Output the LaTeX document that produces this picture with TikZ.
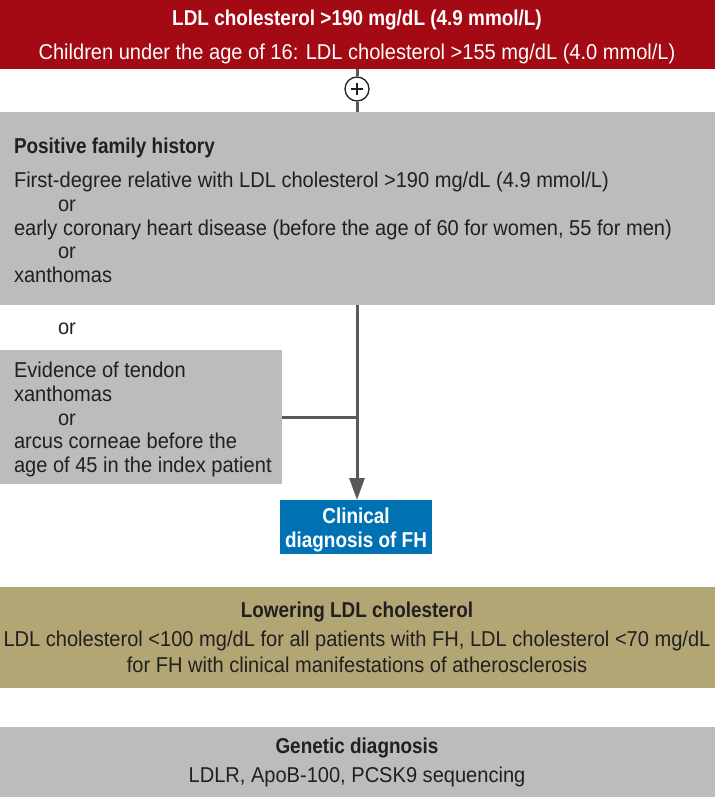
\documentclass[tikz,border=0pt]{standalone}
\usepackage{fontspec}
\setmainfont{Liberation Sans}[FakeStretch=0.933, BoldFeatures={FakeStretch=0.88}]
\usetikzlibrary{arrows.meta}
\definecolor{hdrred}{RGB}{163,10,20}
\definecolor{boxgray}{RGB}{187,188,190}
\definecolor{clinblue}{RGB}{0,114,180}
\definecolor{olive}{RGB}{177,166,116}
\definecolor{txtdark}{RGB}{35,31,32}
\definecolor{linegray}{RGB}{88,89,91}
\tikzset{
  panel/.style={draw=none, inner sep=0pt, outer sep=0pt, anchor=north west},
  txt/.style={inner sep=0pt, outer sep=0pt, text=txtdark, font=\fontsize{21.5}{24}\selectfont},
  txtb/.style={txt, font=\fontsize{21.5}{24}\selectfont\bfseries},
  lft/.style={anchor=base west},
  ctr/.style={anchor=base},
  conn/.style={draw=linegray, line width=3pt},
}
\begin{document}
\begin{tikzpicture}[x=1pt,y=-1pt]
\useasboundingbox (0,0) rectangle (715,797);
% panels
\node[panel, fill=hdrred, minimum width=715pt, minimum height=69pt] (red) at (0,0) {};
\node[panel, fill=boxgray, minimum width=715pt, minimum height=193pt] (fam) at (0,112) {};
\node[panel, fill=boxgray, minimum width=282pt, minimum height=134pt] (tend) at (0,350) {};
\node[panel, fill=clinblue, minimum width=152pt, minimum height=54pt] (clin) at (280,500) {};
\node[panel, fill=olive, minimum width=715pt, minimum height=101pt] (lower) at (0,587) {};
\node[panel, fill=boxgray, minimum width=715pt, minimum height=70pt] (gen) at (0,727) {};
% plus circle
\node[circle, draw=txtdark, fill=white, line width=1.3pt, minimum size=24pt, inner sep=0pt] (plus) at (357,89) {};
\draw[txtdark, line width=1.5pt] ([xshift=-6pt]plus.center) -- ([xshift=6pt]plus.center)
  ([yshift=-6pt]plus.center) -- ([yshift=6pt]plus.center);
% connectors
\draw[conn] (plus.north) -- (plus.north |- red.south);
\draw[conn] (plus.south) -- (plus.south |- fam.north);
\coordinate (join) at (plus |- tend.east);
\draw[conn, -{Triangle[length=22pt, width=15pt]}] (plus |- fam.south) -- (plus |- clin.north);
\draw[conn] (tend.east) -- (join);
% header texts
\node[txtb, ctr, text=white] (h1) at (357,26) {LDL cholesterol >190 mg/dL (4.9 mmol/L)};
\node[txt, ctr, text=white] (h2) at (357,60) {Children under the age of 16: LDL cholesterol >155 mg/dL (4.0 mmol/L)};
% family history
\node[txtb, lft] (f0) at (14,153) {Positive family history};
\node[txt, lft] (f1) at (14,187) {First-degree relative with LDL cholesterol >190 mg/dL (4.9 mmol/L)};
\node[txt, lft] (f2) at (58,211) {or};
\node[txt, lft] (f3) at (14,235) {early coronary heart disease (before the age of 60 for women, 55 for men)};
\node[txt, lft] (f4) at (58,258) {or};
\node[txt, lft] (f5) at (14,282) {xanthomas};
\node[txt, lft] (or1) at (58,334) {or};
% tendon
\node[txt, lft] (t1) at (14,377) {Evidence of tendon};
\node[txt, lft] (t2) at (14,401) {xanthomas};
\node[txt, lft] (t3) at (58,425) {or};
\node[txt, lft] (t4) at (14,448) {arcus corneae before the};
\node[txt, lft] (t5) at (14,472) {age of 45 in the index patient};
% clinical
\node[txtb, ctr, text=white] (c1) at (356,523) {Clinical};
\node[txtb, ctr, text=white] (c2) at (356,547) {diagnosis of FH};
% lowering
\node[txtb, ctr] (l1) at (357,617) {Lowering LDL cholesterol};
\node[txt, ctr] (l2) at (357,646) {LDL cholesterol <100 mg/dL for all patients with FH, LDL cholesterol <70 mg/dL};
\node[txt, ctr] (l3) at (357,672) {for FH with clinical manifestations of atherosclerosis};
% genetic
\node[txtb, ctr] (g1) at (357,753) {Genetic diagnosis};
\node[txt, ctr] (g2) at (357,782) {LDLR, ApoB-100, PCSK9 sequencing};
\end{tikzpicture}
\end{document}
